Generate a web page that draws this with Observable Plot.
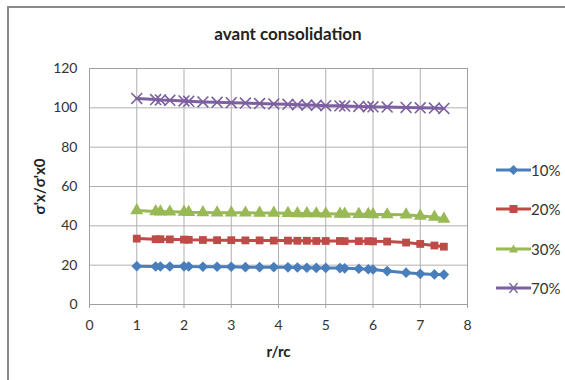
<!DOCTYPE html>
<html>
<head>
<meta charset="utf-8">
<script src="https://cdn.jsdelivr.net/npm/d3@7"></script>
<script src="https://cdn.jsdelivr.net/npm/@observablehq/plot@0.6"></script>
<style>
  html, body { margin: 0; padding: 0; background: #fff; }
  #wrap { position: relative; width: 565px; height: 380px; overflow: hidden; font-family: Lato, "Open Sans", sans-serif; }
  #border { position: absolute; left: 7px; top: 6px; width: 600px; height: 400px; border-left: 2px solid #8a8a8a; border-top: 2px solid #8a8a8a; box-sizing: border-box; }
  #title { position: absolute; left: 0; width: 576px; top: 23px; text-align: center; font-weight: bold; font-size: 17px; color: #222; }
  #legend { position: absolute; left: 496px; top: 150px; }
  .item { display: flex; align-items: center; height: 39.5px; font-size: 15px; color: #333; }
  #chart { position: absolute; left: 0; top: 0; }
</style>
</head>
<body>
<div id="wrap">
  <div id="border"></div>
  <div id="chart"></div>
  <div id="title">avant consolidation</div>
  <div id="legend"></div>
</div>
<script>
const r = [1, 1.4, 1.5, 1.7, 2.0, 2.1, 2.4, 2.7, 3.0, 3.3, 3.6, 3.9, 4.2, 4.4, 4.6, 4.8, 5.0, 5.3, 5.4, 5.7, 5.9, 6.0, 6.3, 6.7, 7.0, 7.3, 7.5];
const s10 = [19.5,19.3,19.3,19.3,19.4,19.3,19.2,19.2,19.2,19.0,19.0,19.0,18.9,18.8,18.7,18.6,18.6,18.5,18.4,18.2,17.9,17.8,17.0,16.2,15.6,15.3,15.2];
const s20 = [33.5,33.2,33.2,33.1,33.0,32.9,32.8,32.7,32.7,32.6,32.6,32.5,32.5,32.4,32.4,32.3,32.3,32.3,32.2,32.2,32.2,32.1,32.0,31.5,30.8,30.0,29.4];
const s30 = [47.8,47.3,47.2,47.1,47.0,46.9,46.8,46.7,46.7,46.6,46.5,46.5,46.4,46.3,46.3,46.2,46.1,46.0,46.0,45.9,45.9,45.8,45.7,45.6,45.0,44.5,43.5];
const s70 = [104.8,104.2,104.0,103.8,103.5,103.3,103.0,102.8,102.6,102.4,102.2,102.0,101.8,101.6,101.4,101.3,101.1,101.0,100.9,100.7,100.6,100.5,100.4,100.2,100.0,99.9,99.7];
const seriesNames = ["10%", "20%", "30%", "70%"];
const seriesValues = [s10, s20, s30, s70];
const colors = ["#4a7ebb", "#be4b48", "#98b954", "#7d60a0"];
const symbols = ["diamond2", "square", "triangle", "times"];
const xTicks = [0, 1, 2, 3, 4, 5, 6, 7, 8];
const yTicks = [0, 20, 40, 60, 80, 100, 120];

const data = seriesNames.flatMap((name, i) => r.map((x, j) => ({series: name, r: x, v: seriesValues[i][j]})));

const marks = [
  Plot.gridX(xTicks, {stroke: "#b0b0b0", strokeOpacity: 1, strokeWidth: 1}),
  Plot.gridY(yTicks, {stroke: "#b0b0b0", strokeOpacity: 1, strokeWidth: 1}),
  Plot.frame({stroke: "#a0a0a0"}),
  Plot.axisX({ticks: xTicks, tickSize: 4, tickPadding: 12, stroke: "#a0a0a0", fontSize: 14, label: "r/rc", labelAnchor: "center", labelArrow: "none", labelOffset: 52}),
  Plot.axisY({ticks: yTicks, tickSize: 0, tickPadding: 12, fontSize: 14, label: "σ'x/σ'x0", labelAnchor: "center", labelArrow: "none", labelOffset: 55})
];
seriesNames.forEach((name, i) => {
  const d = data.filter(e => e.series === name);
  marks.push(Plot.line(d, {x: "r", y: "v", stroke: colors[i], strokeWidth: 3}));
  if (symbols[i] === "times") {
    marks.push(Plot.dot(d, {x: "r", y: "v", symbol: "times", stroke: colors[i], strokeWidth: 1.6, r: 5}));
  } else {
    marks.push(Plot.dot(d, {x: "r", y: "v", symbol: symbols[i], fill: colors[i], r: symbols[i] === "square" ? 4.4 : 4.8}));
  }
});

const chart = Plot.plot({
  width: 565,
  height: 380,
  marginLeft: 89,
  marginRight: 98,
  marginTop: 68,
  marginBottom: 76,
  x: {domain: [0, 8]},
  y: {domain: [0, 120]},
  style: {fontFamily: "Lato, 'Open Sans', sans-serif", color: "#333", background: "transparent", overflow: "visible"},
  marks
});
chart.querySelectorAll('[aria-label="x-axis label"] text, [aria-label="y-axis label"] text').forEach(t => {
  t.setAttribute("font-weight", "bold");
  t.setAttribute("font-size", "15");
  t.style.fill = "#222";
});
document.getElementById("chart").appendChild(chart);

const legend = document.getElementById("legend");
seriesNames.forEach((name, i) => {
  const item = document.createElement("div");
  item.className = "item";
  let marker;
  if (symbols[i] === "diamond2") marker = `<rect x="14" y="-3.5" width="7" height="7" transform="rotate(45 17.5 0)" fill="${colors[i]}"/>`;
  else if (symbols[i] === "square") marker = `<rect x="13.5" y="-4" width="8" height="8" fill="${colors[i]}"/>`;
  else if (symbols[i] === "triangle") marker = `<path d="M17.5,-4.5L22,3.5L13,3.5Z" fill="${colors[i]}"/>`;
  else marker = `<path d="M13.5,-5L21.5,5M13.5,5L21.5,-5" stroke="${colors[i]}" stroke-width="1.3"/>`;
  item.innerHTML = `<svg width="35" height="14" viewBox="0 -7 35 14"><line x1="0" x2="35" y1="0" y2="0" stroke="${colors[i]}" stroke-width="3"/>${marker}</svg><span>${name}</span>`;
  legend.appendChild(item);
});
</script>
</body>
</html>
